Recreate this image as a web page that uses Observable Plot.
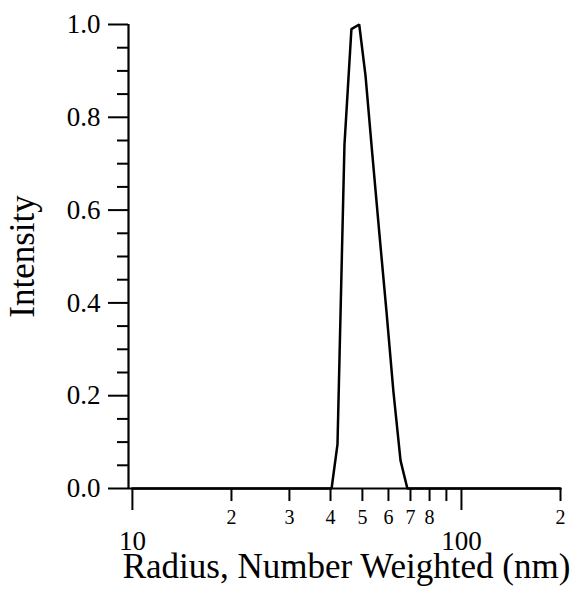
<!DOCTYPE html>
<html>
<head>
<meta charset="utf-8">
<script src="https://cdn.jsdelivr.net/npm/d3@7"></script>
<script src="https://cdn.jsdelivr.net/npm/@observablehq/plot@0.6"></script>
<style>
  html, body { margin: 0; padding: 0; background: #fff; }
  svg { display: block; }
</style>
</head>
<body>
<div id="chart"></div>
<script>
// Data
const radius    = [10, 40.3, 42.0, 44.1, 46.3, 48.9, 51.1, 53.6, 56.3, 59.2, 62.1, 65.3, 68.5, 200];
const intensity = [0,  0,    0.095, 0.74, 0.99, 1.0, 0.89, 0.72, 0.55, 0.38, 0.21, 0.06, 0,   0];

const xMajorTicks = [10, 100];
const xMinorTicks = [20, 30, 40, 50, 60, 70, 80, 90, 200];
const xMinorLabels = ["2", "3", "4", "5", "6", "7", "8", "", "2"];
const yMajorTicks = [0, 0.2, 0.4, 0.6, 0.8, 1.0];
const yMinorTicks = [0.05, 0.1, 0.15, 0.25, 0.3, 0.35, 0.45, 0.5, 0.55, 0.65, 0.7, 0.75, 0.85, 0.9, 0.95];

const xTitle = "Radius, Number Weighted (nm)";
const yTitle = "Intensity";

const xDomain = [9.73, 200];
const yDomain = [0, 1];

const data = radius.map((r, i) => ({radius: r, intensity: intensity[i]}));
const minorLabelOf = new Map(xMinorTicks.map((t, i) => [t, xMinorLabels[i]]));

const font = "'Liberation Serif', 'Times New Roman', serif";

const chart = Plot.plot({
  width: 572,
  height: 589,
  marginLeft: 128,
  marginRight: 12,
  marginTop: 24,
  marginBottom: 101,
  style: {background: "#fff", color: "#000", fontFamily: font, overflow: "visible"},
  x: {type: "log", domain: xDomain, label: null},
  y: {domain: yDomain, label: null},
  marks: [
    Plot.axisY({ticks: yMinorTicks, tickSize: 11, strokeWidth: 2, tickFormat: () => "", label: null}),
    Plot.axisY({ticks: yMajorTicks, tickSize: 20, tickPadding: 8, strokeWidth: 2, label: null,
      tickFormat: d3.format(".1f"), fontSize: 27, fontFamily: font, fill: "#000"}),
    Plot.axisX({ticks: xMinorTicks, tickSize: 13, tickPadding: 8, strokeWidth: 2, label: null,
      tickFormat: d => minorLabelOf.get(d), fontSize: 20, fontFamily: font, fill: "#000"}),
    Plot.axisX({ticks: xMajorTicks, tickSize: 22, tickPadding: 20, strokeWidth: 2, label: null,
      tickFormat: d => String(d), fontSize: 27, fontFamily: font, fill: "#000"}),
    Plot.ruleX([xDomain[0]], {stroke: "#000", strokeWidth: 2.2}),
    Plot.ruleY([0], {stroke: "#000", strokeWidth: 2.2}),
    Plot.line(data, {x: "radius", y: "intensity", stroke: "#000", strokeWidth: 2.5, strokeLinejoin: "miter"}),
    Plot.text([xTitle], {frameAnchor: "bottom", lineAnchor: "bottom", textAnchor: "middle", dx: 2, dy: 89,
      fontSize: 35, fontFamily: font, fill: "#000"}),
    Plot.text([yTitle], {frameAnchor: "left", lineAnchor: "bottom", textAnchor: "middle", rotate: -90, dx: -95,
      fontSize: 35, fontFamily: font, fill: "#000"})
  ]
});
document.getElementById("chart").appendChild(chart);
</script>
</body>
</html>
